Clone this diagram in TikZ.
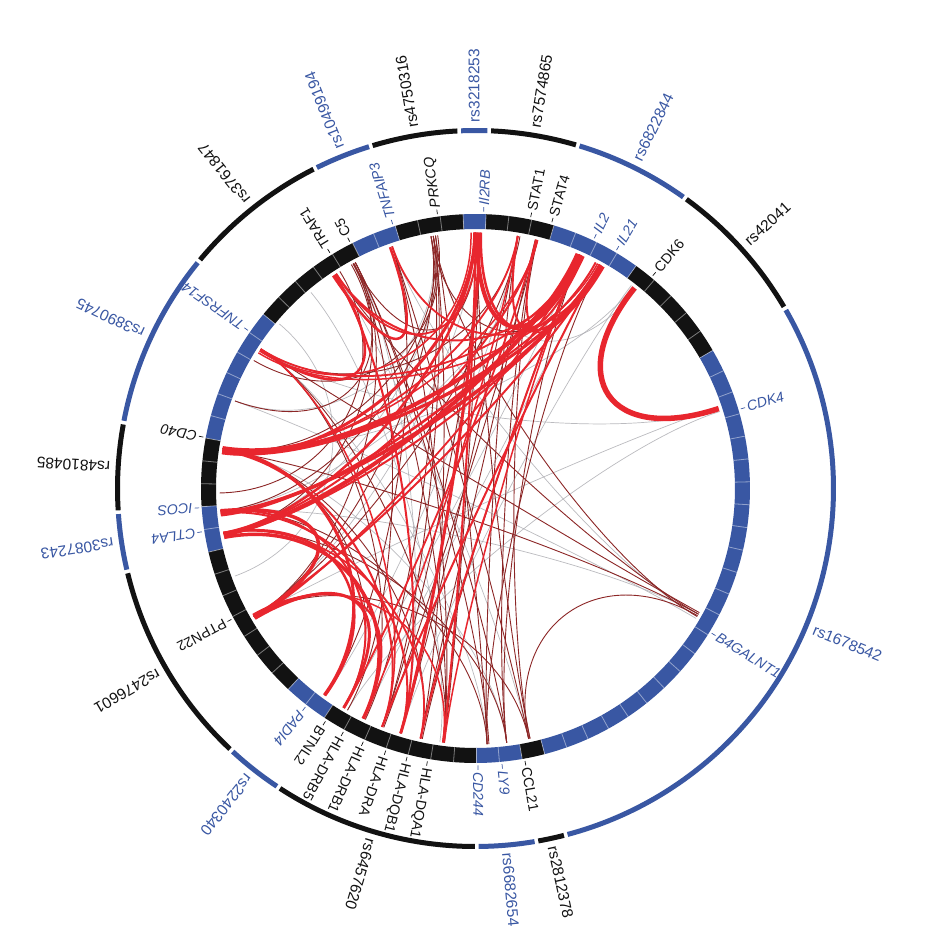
\documentclass[tikz,border=0pt]{standalone}
\usepackage{fontspec}
\newfontfamily\labfont{Liberation Sans}
\definecolor{cblue}{RGB}{57,87,163}
\definecolor{cblack}{RGB}{18,18,18}
\definecolor{cred}{RGB}{232,38,46}
\definecolor{cdred}{RGB}{140,38,38}
\definecolor{cgrey}{RGB}{170,170,176}
\tikzset{
  rslab/.style={anchor=west, inner sep=0pt, font=\labfont\fontsize{15.5}{18}\selectfont},
  genelab/.style={anchor=west, inner sep=0pt},
  redchord/.style={cred},
  dredchord/.style={cdred, line width=0.9pt},
  greychord/.style={cgrey, line width=0.7pt, opacity=0.8},
}
\begin{document}
\begin{tikzpicture}[x=1pt,y=1pt]
\useasboundingbox[fill=white] (-475.5,-451.5) rectangle (475.5,488.5);
% ---- segments: outer ring + inner ring + rs labels
\foreach \s/\n/\c/\lab [count=\i] in {0/5/cblack/rs42041, 5/4/cblue/rs6822844, 9/3/cblack/rs7574865, 12/1/cblue/rs3218253, 13/3/cblack/rs4750316, 16/2/cblue/rs10499194, 18/5/cblack/rs3761847, 23/6/cblue/rs3890745, 29/3/cblack/rs4810485, 32/2/cblue/rs3087243, 34/7/cblack/rs2476601, 41/2/cblue/rs2240340, 43/7/cblack/rs6457620, 50/2/cblue/rs6682654, 52/1/cblack/rs2812378, 53/22/cblue/rs1678542}{
  \pgfmathsetmacro\a{30.2+4.8*\s}
  \pgfmathsetmacro\b{30.2+4.8*(\s+\n)}
  \pgfmathsetmacro\m{(\a+\b)/2}
  \pgfmathsetmacro\oa{\a+0.3}
  \pgfmathsetmacro\ob{\b-0.3}
  \fill[\c] (\a:259.5) arc[start angle=\a, end angle=\b, radius=259.5] -- (\b:274.5) arc[start angle=\b, end angle=\a, radius=274.5] -- cycle;
  \draw[\c, line width=5pt] (\oa:358) arc[start angle=\oa, end angle=\ob, radius=358];
  \node[rslab, rotate=\m, text=\c] (snp\i) at (\m:366) {\lab};
}
% ---- cell dividers in inner ring
\foreach \k in {0,...,74}{
  \pgfmathsetmacro\a{30.2+4.8*\k}
  \draw[white, opacity=0.45, line width=0.8pt] (\a:259.5) -- (\a:274.5);
}
% ---- gene labels with ticks
\foreach \g/\t/\c/\sh [count=\i] in {121.7/TRAF1/cblack/n, 117.0/C5/cblack/n, 107.4/TNFAIP3/cblue/it, 97.9/PRKCQ/cblack/it, 88.3/Il2RB/cblue/it, 78.5/STAT1/cblack/n, 74.0/STAT4/cblack/n, 64.6/IL2/cblue/it, 59.4/IL21/cblue/it, 50.2/CDK6/cblack/n, 16.7/CDK4/cblue/it, -31.5/B4GALNT1/cblue/it, -79.7/CCL21/cblack/n, -84.5/LY9/cblue/it, -89.5/CD244/cblue/it, -100.0/HLA-DQA1/cblack/n, -104.3/HLA-DQB1/cblack/n, -108.9/HLA-DRA/cblack/n, -113.9/HLA-DRB1/cblack/n, -118.5/HLA-DRB5/cblack/n, -122.8/BTNL2/cblack/n, -127.9/PADI4/cblue/it, -151.8/PTPN22/cblack/n, 189.0/CTLA4/cblue/it, 184.0/ICOS/cblue/it, 169.3/CD40/cblack/it, 145.2/TNFRSF14/cblue/it}{
  \draw[\c, line width=0.7pt] (\g:277) -- (\g:281.5);
  \node[genelab, rotate=\g, text=\c, font={\labfont\fontsize{14.2}{16}\fontshape{\sh}\selectfont}] (gene\i) at (\g:283.5) {\t};
}
% ---- grey chords
\foreach \p/\q in {52/171, 52.5/253, 18/147, 18.5/210, 330.6/185, 330/109, 99/190, 118/253, 123/282, 147/272.6, 210/90, 66/239, 171/277, 80.5/234, 185/76, 244/60.8, 51/90, 17.5/240, 329.5/160, 262/130, 140/200, 160/100}{
  \draw[greychord] (\p:256) .. controls (\p:141) and (\q:141) .. (\q:256);
}
% ---- dark red chords
\foreach \p/\q in {99.5/171, 99/185, 100/210, 99.5/248.6, 99/272.6, 100/60.8, 118.4/190, 118/210, 118.5/89.5, 118/277, 118.4/262.7, 80.5/147, 80/210, 80.5/272.6, 76/282.3, 76.5/257.6, 330.6/171.4, 330/99.5, 331/147, 330.6/123, 330.2/282, 282.3/89.7, 282/109, 277/76.3, 277/65.8, 272.6/60.8, 273/118, 262.7/109, 257.6/99.5, 253/80.5, 248.6/89, 244/147, 239/171, 234/109, 147/263, 171/257.6, 185/272.6, 210/282, 190/277, 263/89, 258/66, 249/76, 244.5/100, 240/118.6, 98.5/150, 119/160, 122/181}{
  \draw[dredchord] (\p:256) .. controls (\p:141) and (\q:141) .. (\q:256);
}
% ---- red chords
\foreach \p/\q/\w in {80.5/65/2, 76.3/61/2, 65.8/257.6/2, 61/248.6/2, 76/190/2, 80.5/171.5/1.8, 90/262.7/2, 66/186/2.5, 61/190.5/2, 123/65.5/2, 147/66/1.8, 148/61.5/1.5, 171.5/248.6/2, 185.5/253/2, 190/257.6/1.8, 210/244/2, 209.5/262.7/1.5, 190/234/2.5, 185/239/2, 123.4/253/2, 109/60.5/1.8, 89.5/123/1.8, 76.3/239/1.8, 80.5/244/1.5, 65.8/263/1.5, 60.8/210/2, 66/210.5/1.8, 171/76/1.5, 147/248.6/1.5, 90/190/2.5, 88.8/60/2.5, 91/147.5/1.5, 172/62/2}{
  \draw[redchord, line width=\w pt] (\p:256) .. controls (\p:141) and (\q:141) .. (\q:256);
}
\foreach \p/\q/\w in {51.6/18.2/5.5, 65.8/171.4/4, 66.5/190.4/4, 60.8/185.5/3.5, 89.7/65.5/4, 90.2/172/3, 191/244/3.5, 185/210/3.5, 210.5/239/3, 171/233.8/3, 89/253/3, 147.3/123.4/2.5, 109.5/123.8/2.5, 60.5/170.8/3}{
  \draw[redchord, line width=\w pt] (\p:256) .. controls (\p:141) and (\q:141) .. (\q:256);
}
\end{tikzpicture}
\end{document}
